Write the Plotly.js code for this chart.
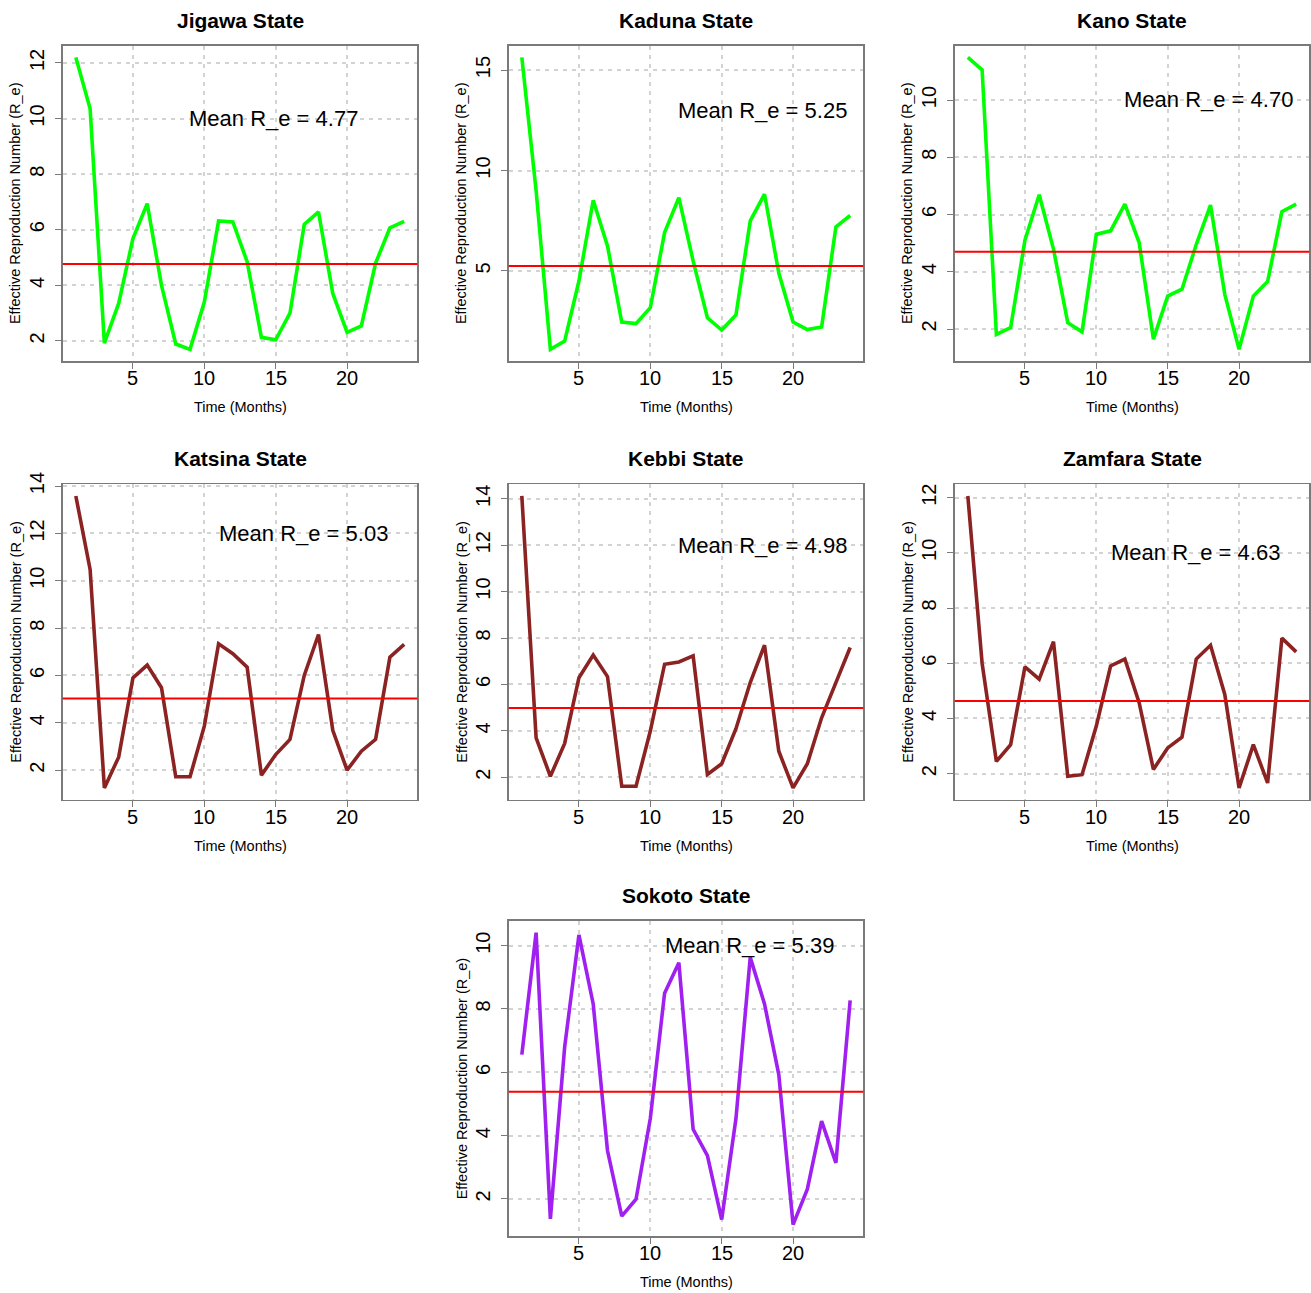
<!DOCTYPE html>
<html>
<head>
<meta charset="utf-8">
<script src="https://cdn.plot.ly/plotly-3.0.1.min.js"></script>
<style>
  html, body { margin: 0; padding: 0; background: #ffffff; }
  #chart { width: 1311px; height: 1293px; }
</style>
</head>
<body>
<div id="chart"></div>
<script>
// ---------------- DATA ----------------
const months = [1,2,3,4,5,6,7,8,9,10,11,12,13,14,15,16,17,18,19,20,21,22,23,24];

const states = ["Jigawa State", "Kaduna State", "Kano State", "Katsina State", "Kebbi State", "Zamfara State", "Sokoto State"];

const jigawa  = [12.2, 10.35, 1.92, 3.35, 5.68, 6.94, 4.0, 1.89, 1.70, 3.4, 6.32, 6.28, 4.85, 2.13, 2.04, 3.0, 6.19, 6.64, 3.71, 2.31, 2.54, 4.8, 6.07, 6.3];
const kaduna  = [15.63, 9.0, 1.1, 1.51, 4.5, 8.52, 6.25, 2.46, 2.38, 3.17, 6.91, 8.65, 5.5, 2.67, 2.06, 2.81, 7.49, 8.82, 4.9, 2.46, 2.08, 2.21, 7.19, 7.76];
const kano    = [11.49, 11.05, 1.81, 2.05, 5.1, 6.69, 4.79, 2.22, 1.9, 5.31, 5.43, 6.36, 5.02, 1.64, 3.15, 3.39, 4.95, 6.33, 3.21, 1.29, 3.15, 3.66, 6.1, 6.36];
const katsina = [13.58, 10.48, 1.25, 2.55, 5.9, 6.44, 5.48, 1.72, 1.72, 3.86, 7.34, 6.92, 6.35, 1.79, 2.66, 3.3, 6.0, 7.73, 3.68, 2.0, 2.8, 3.3, 6.77, 7.31];
const kebbi   = [14.12, 3.7, 2.04, 3.46, 6.29, 7.27, 6.34, 1.61, 1.61, 3.99, 6.87, 6.97, 7.23, 2.12, 2.58, 4.09, 6.08, 7.69, 3.12, 1.54, 2.58, 4.56, 6.08, 7.59];
const zamfara = [12.06, 6.0, 2.44, 3.05, 5.87, 5.42, 6.78, 1.9, 1.96, 3.72, 5.9, 6.15, 4.57, 2.15, 2.93, 3.32, 6.15, 6.65, 4.87, 1.48, 3.05, 1.66, 6.91, 6.41];
const sokoto  = [6.56, 10.41, 1.37, 6.8, 10.34, 8.16, 3.53, 1.46, 1.99, 4.54, 8.5, 9.46, 4.2, 3.37, 1.35, 4.54, 9.63, 8.16, 5.93, 1.19, 2.31, 4.46, 3.14, 8.27];

const meanRe = [4.77, 5.25, 4.70, 5.03, 4.98, 4.63, 5.39];

const xTickVals = [5, 10, 15, 20];
const xTickText = ["5", "10", "15", "20"];

// ---------------- LAYOUT CONFIG ----------------
const W = 1311, H = 1293;
const series = [jigawa, kaduna, kano, katsina, kebbi, zamfara, sokoto];
const lineColors = ["#00FF00", "#00FF00", "#00FF00", "#8B2323", "#8B2323", "#8B2323", "#A020F0"];
// panel box (left px, top px)
const boxes = [
  [62.7, 45.7], [508.7, 45.7], [954.7, 45.7],
  [62.7, 484.3], [508.7, 484.3], [954.7, 484.3],
  [508.7, 921.0]
];
const boxW = 354.6, boxH = 315.3;
const yDticks = [2, 5, 2, 2, 2, 2, 2];
const labelPos = [[14.87, 10.0], [17.88, 13.0], [17.88, 10.03], [16.96, 12.0], [17.88, 12.0], [16.96, 10.0], [16.96, 10.0]];

const FONT = "Liberation Sans, Arial, Helvetica, sans-serif";
const data = [];
const shapes = [];
const annotations = [];
const layout = {
  width: W, height: H,
  margin: {l: 0, r: 0, t: 0, b: 0},
  paper_bgcolor: "#ffffff",
  plot_bgcolor: "#ffffff",
  showlegend: false,
  font: {family: FONT, color: "#000000"},
  shapes: shapes,
  annotations: annotations
};

const xPad = 0.04 * (months[months.length - 1] - months[0]);

for (let i = 0; i < states.length; i++) {
  const n = i + 1;
  const xa = "x" + (n === 1 ? "" : n);
  const ya = "y" + (n === 1 ? "" : n);
  const xKey = "xaxis" + (n === 1 ? "" : n);
  const yKey = "yaxis" + (n === 1 ? "" : n);
  const vals = series[i];
  const mn = Math.min(...vals), mx = Math.max(...vals);
  const yPad = 0.04 * (mx - mn);
  const [bl, bt] = boxes[i];

  const axisCommon = {
    showline: true, mirror: true, linecolor: "#7a7a7a", linewidth: 1.6,
    showgrid: true, gridcolor: "#d3d3d3", gridwidth: 2, griddash: "4px,5px",
    zeroline: false,
    ticks: "outside", ticklen: 6, tickwidth: 1, tickcolor: "#7a7a7a",
    tickfont: {family: FONT, size: 20, color: "#000000"},
    fixedrange: true
  };

  layout[xKey] = Object.assign({}, axisCommon, {
    domain: [bl / W, (bl + boxW) / W],
    anchor: ya,
    range: [months[0] - xPad, months[months.length - 1] + xPad],
    tickmode: "array", tickvals: xTickVals, ticktext: xTickText,
    showticklabels: false
  });
  layout[yKey] = Object.assign({}, axisCommon, {
    domain: [1 - (bt + boxH) / H, 1 - bt / H],
    anchor: xa,
    range: [mn - yPad, mx + yPad],
    tick0: 0, dtick: yDticks[i],
    tickangle: -90,
    ticklabelstandoff: 3
  });

  data.push({
    type: "scatter", mode: "lines",
    x: months, y: vals,
    xaxis: xa, yaxis: ya,
    line: {color: lineColors[i], width: 3.6}
  });

  // mean line
  shapes.push({
    type: "line", xref: xa + " domain", yref: ya,
    x0: 0, x1: 1, y0: meanRe[i], y1: meanRe[i],
    line: {color: "#FF0000", width: 2}, layer: "above"
  });

  // x tick labels (placed closer to the axis, as in base R)
  xTickVals.forEach((v, k) => {
    annotations.push({
      xref: xa, yref: ya + " domain", x: v, y: 0,
      yshift: -17, xanchor: "center", yanchor: "middle",
      text: xTickText[k], showarrow: false,
      font: {family: FONT, size: 20, color: "#000000"}
    });
  });

  // mean label
  annotations.push({
    xref: xa, yref: ya, x: labelPos[i][0], y: labelPos[i][1],
    text: "Mean R_e = " + meanRe[i].toFixed(2),
    showarrow: false, xanchor: "center", yanchor: "middle",
    font: {family: FONT, size: 22, color: "#000000"}
  });

  // panel title
  annotations.push({
    xref: xa + " domain", yref: ya + " domain", x: 0.5, y: 1,
    yshift: 25.5, xanchor: "center", yanchor: "middle",
    text: "<b>" + states[i] + "</b>", showarrow: false,
    font: {family: FONT, size: 21, color: "#000000"}
  });

  // x axis title
  annotations.push({
    xref: xa + " domain", yref: ya + " domain", x: 0.5, y: 0,
    yshift: -46, xanchor: "center", yanchor: "middle",
    text: "Time (Months)", showarrow: false,
    font: {family: FONT, size: 14.5, color: "#000000"}
  });

  // y axis title
  annotations.push({
    xref: xa + " domain", yref: ya + " domain", x: 0, y: 0.5,
    xshift: -47, xanchor: "center", yanchor: "middle", textangle: -90,
    text: "Effective Reproduction Number (R_e)", showarrow: false,
    font: {family: FONT, size: 14.5, color: "#000000"}
  });
}

Plotly.newPlot("chart", data, layout, {staticPlot: true, displayModeBar: false});
</script>
</body>
</html>
